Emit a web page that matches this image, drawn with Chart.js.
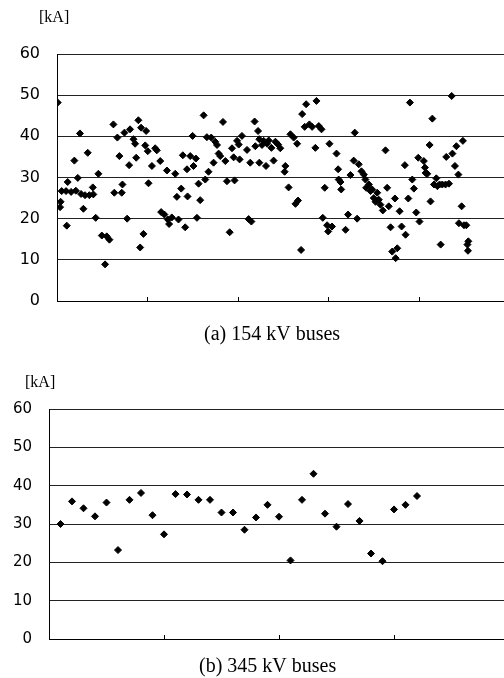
<!DOCTYPE html>
<html><head><meta charset="utf-8">
<script src="https://cdn.jsdelivr.net/npm/chart.js@4/dist/chart.umd.min.js"></script>
<style>
html,body{margin:0;padding:0;background:#fff;overflow:hidden;width:504px;height:678px}
#w1{position:absolute;left:0;top:0;width:520px;height:345px}
#w2{position:absolute;left:0;top:345px;width:520px;height:333px}
</style></head><body>
<div id="w1"><canvas id="c1"></canvas></div>
<div id="w2"><canvas id="c2"></canvas></div>
<script>
// ---- data ----
const yTicks = [0, 10, 20, 30, 40, 50, 60];
const xTicks154 = [0, 50, 100, 150, 200, 250];
const xTicks345 = [0, 10, 20, 30, 40];
const unitLabel = '[kA]';
const caption154 = '(a) 154 kV buses';
const caption345 = '(b) 345 kV buses';

const bus154 = [0.4,1.7,2.0,2.6,5.0,5.4,5.9,7.8,9.6,10.4,11.5,12.7,13.3,14.6,15.5,17.0,17.9,19.8,20.1,21.4,
22.9,24.8,26.6,27.5,29.0,31.2,31.7,33.4,34.5,35.8,36.2,37.3,38.8,39.9,40.4,42.3,43.2,43.8,45.0,46.0,
46.5,47.8,48.8,49.3,50.2,50.6,52.5,54.3,55.2,57.1,57.6,59.4,60.8,61.3,62.0,63.5,65.4,66.3,67.2,68.7,
69.6,70.9,71.9,72.2,73.7,75.0,75.5,76.8,77.4,78.3,79.2,81.1,82.0,82.9,83.8,85.3,86.6,87.5,88.5,89.4,
90.3,91.8,93.1,94.0,95.5,96.8,97.7,98.2,99.6,100.5,101.0,102.3,105.1,106.0,106.9,107.5,109.3,109.7,111.2,111.9,
111.9,113.4,114.3,115.6,116.2,117.1,118.6,119.8,120.8,122.3,123.5,125.9,126.3,128.1,129.1,130.9,131.9,132.8,133.3,135.0,
135.6,137.0,137.8,139.6,141.1,142.9,143.5,144.8,146.3,147.0,148.1,149.4,150.0,150.7,152.1,154.6,155.5,155.8,156.8,157.2,
159.6,161.0,162.3,164.1,164.7,166.0,166.9,168.4,169.7,170.6,171.0,172.5,173.4,174.3,175.2,176.2,177.1,178.0,178.9,180.2,
181.7,182.6,183.5,184.5,185.4,186.9,187.3,188.2,189.5,190.6,192.4,192.8,194.3,195.2,196.5,197.4,198.7,199.8,200.5,202.9,
203.5,203.9,204.8,206.1,206.6,207.6,208.5,209.8,210.4,211.6,212.2,213.1,214.9,215.3,216.8,218.3,218.7,220.1,220.9,222.0,
222.3,223.8,224.5,225.1,226.4,227.0,227.3,227.5];
const kA154 = [48.2,22.8,24.1,26.7,26.7,18.3,28.9,26.5,34.1,26.8,29.9,40.7,26.0,22.4,25.7,36.0,25.7,27.6,25.9,20.2,
30.9,15.9,8.9,15.7,14.9,42.9,26.3,39.7,35.2,26.3,28.3,40.9,20.0,33.0,41.7,39.3,38.2,34.8,43.9,13.0,
42.1,16.3,37.8,41.3,36.4,28.6,32.8,37.1,36.6,34.0,21.6,21.0,31.7,19.8,18.7,20.3,30.9,25.3,19.8,27.3,
35.4,17.9,32.0,25.4,35.2,40.1,32.8,34.6,20.2,28.5,24.5,45.1,29.5,39.8,31.4,39.7,33.6,38.7,37.9,35.8,
35.2,43.5,34.0,29.1,16.7,37.1,34.9,29.3,38.9,38.0,34.4,40.1,36.7,19.9,33.6,19.3,43.6,37.6,41.3,39.3,
33.6,37.9,38.9,32.8,38.2,39.0,37.2,34.1,38.7,38.0,37.1,31.4,32.8,27.6,40.5,39.7,23.6,38.2,24.4,12.4,
45.4,42.3,47.8,42.9,42.3,37.2,48.6,42.5,41.7,20.2,27.5,18.4,16.9,38.2,18.1,35.8,32.0,29.5,28.9,27.1,
17.3,21.0,30.6,34.1,40.9,20.0,33.2,31.5,30.7,29.5,27.5,28.3,26.7,27.1,25.0,24.1,26.3,24.6,23.4,22.0,
36.6,27.5,23.0,17.9,12.0,24.9,10.4,12.8,21.8,18.1,33.0,16.1,24.9,48.2,29.5,27.3,21.5,34.8,19.3,34.0,
32.4,31.1,30.9,37.9,24.2,44.3,28.3,29.8,27.9,28.3,13.7,28.3,28.3,35.0,28.5,49.8,35.8,32.8,37.6,30.7,
18.9,23.0,38.9,18.4,18.4,13.7,12.2,14.5];

const bus345 = [1,2,3,4,5,6,7,8,9,10,11,12,13,14,15,16,17,18,19,20,21,22,23,24,25,26,27,28,29,30,31,32];
const kA345 = [30.0,35.9,34.1,32.0,35.6,23.2,36.3,38.1,32.3,27.3,37.8,37.7,36.3,36.3,33.0,33.0,
28.5,31.7,35.0,31.9,20.5,36.3,43.1,32.7,29.3,35.2,30.8,22.3,20.3,33.8,35.0,37.3];

// ---- drawing ----
const deco = {
  id: 'deco',
  afterDraw(chart, args, o) {
    const {ctx, chartArea: a, scales: {x}} = chart;
    ctx.save();
    ctx.strokeStyle = '#000';
    ctx.lineWidth = 1;
    x.ticks.forEach(t => {
      if (t.value <= x.min || t.value >= x.max) return;
      const px = Math.round(x.getPixelForValue(t.value)) + 0.5;
      ctx.beginPath();
      ctx.moveTo(px, a.bottom);
      ctx.lineTo(px, a.bottom - 4);
      ctx.stroke();
    });
    ctx.fillStyle = '#000';
    ctx.textAlign = 'left';
    ctx.textBaseline = 'middle';
    ctx.font = o.unitFont;
    ctx.fillText(unitLabel, a.left + o.unitDx, a.top + o.unitDy);
    ctx.font = o.capFont;
    ctx.fillText(o.caption, a.left + o.capDx, a.bottom + o.capDy);
    ctx.restore();
  }
};

function makeChart(id, xs, ys, xTicks, xMax, pad, tickFont, decoOpts) {
  return new Chart(document.getElementById(id), {
    type: 'scatter',
    data: {
      datasets: [{
        data: xs.map((v, i) => ({x: v, y: ys[i]})),
        pointStyle: 'rectRot',
        pointRadius: 3.5,
        pointBorderWidth: 1,
        backgroundColor: '#000',
        borderColor: '#000'
      }]
    },
    options: {
      responsive: true,
      maintainAspectRatio: false,
      animation: false,
      layout: {padding: pad},
      plugins: {legend: {display: false}, tooltip: {enabled: false}, deco: decoOpts},
      scales: {
        x: {
          type: 'linear', min: 0, max: xMax,
          afterBuildTicks: s => { s.ticks = xTicks.map(v => ({value: v})); },
          afterFit: s => { s.height = 0; },
          ticks: {display: false},
          grid: {display: false},
          border: {display: true, color: '#000', width: 1}
        },
        y: {
          min: 0, max: 60,
          afterBuildTicks: s => { s.ticks = yTicks.map(v => ({value: v})); },
          afterFit: s => { s.width = 45; },
          ticks: {color: '#000', font: tickFont, padding: 17},
          grid: {color: '#222', lineWidth: 1, drawTicks: false},
          border: {display: true, color: '#000', width: 1}
        }
      }
    },
    plugins: [deco]
  });
}

makeChart('c1', bus154, kA154, xTicks154, 250,
  {left: 12, right: 11, top: 54, bottom: 44},
  {family: 'DejaVu Sans', size: 16},
  {caption: caption154, unitFont: '16px "Liberation Serif"', unitDx: -18, unitDy: -36.5,
   capFont: '20px "Liberation Serif"', capDx: 147, capDy: 33.5});

makeChart('c2', bus345, kA345, xTicks345, 40,
  {left: 4, right: 11, top: 64, bottom: 39},
  {family: 'DejaVu Sans', size: 15},
  {caption: caption345, unitFont: '16px "Liberation Serif"', unitDx: -24, unitDy: -26,
   capFont: '20px "Liberation Serif"', capDx: 150, capDy: 28});
</script>
</body></html>
